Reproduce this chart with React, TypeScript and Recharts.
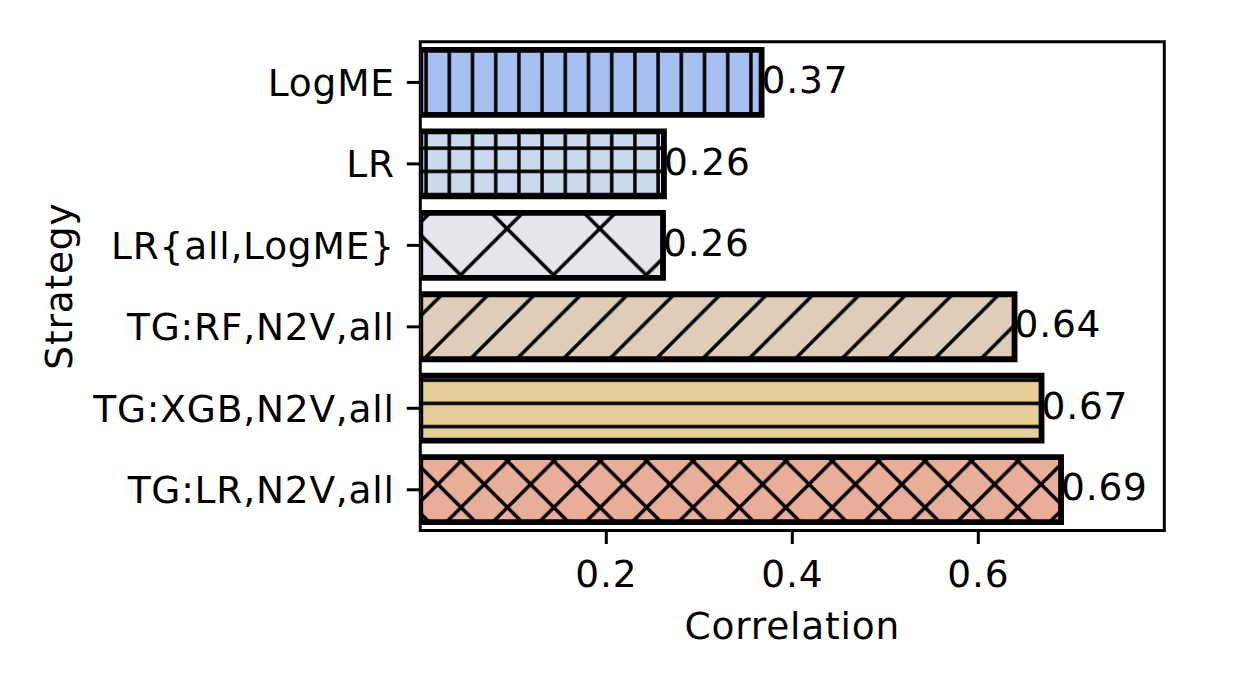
import React from 'react';
import { BarChart, Bar, XAxis, YAxis, Cell, LabelList, ReferenceArea } from 'recharts';

const categories = ['LogME', 'LR', 'LR{all,LogME}', 'TG:RF,N2V,all', 'TG:XGB,N2V,all', 'TG:LR,N2V,all'];
const correlations = [0.367, 0.262, 0.261, 0.639, 0.668, 0.689];
const barColors = ['#a7c0f1', '#ccd8ec', '#e5e5ec', '#dfccb9', '#e6ce98', '#e9ae97'];
const hatchKinds = ['vert', 'grid', 'xsparse', 'diag', 'horiz', 'xdense'];
const xTicks = [0.2, 0.4, 0.6];
const xDomain = [0, 0.8];

const data = categories.map((c, i) => ({ strategy: c, value: correlations[i] }));

const FONT = 'DejaVu Sans';
const FS = 37.5;
const LS = 0.8;
const P = 23.2;
const Q = 2 * P;
const R = 4 * P;
const HW = 3.5;
const EDGE = 5.8;

function diagLines(size: number, slash: boolean, back: boolean) {
  const s = 6;
  const out: any[] = [];
  if (slash) {
    for (let k = 0; k <= 2; k++) {
      out.push(<line key={'s' + k} x1={k * size + s} y1={-s} x2={-s} y2={k * size + s} stroke="#000" strokeWidth={HW} />);
    }
  }
  if (back) {
    for (let k = -1; k <= 1; k++) {
      out.push(<line key={'b' + k} x1={k * size - s} y1={-s} x2={k * size + size + s} y2={size + s} stroke="#000" strokeWidth={HW} />);
    }
  }
  return out;
}

function HatchPattern({ id, color, kind }: { id: string; color: string; kind: string }) {
  if (kind === 'vert') {
    return (
      <pattern id={id} patternUnits="userSpaceOnUse" x={8.5 - P / 2} y={0} width={P} height={P}>
        <rect width={P} height={P} fill={color} />
        <line x1={P / 2} y1={-2} x2={P / 2} y2={P + 2} stroke="#000" strokeWidth={HW} />
      </pattern>
    );
  }
  if (kind === 'grid') {
    return (
      <pattern id={id} patternUnits="userSpaceOnUse" x={8.5 - P / 2} y={9 - P / 2} width={P} height={P}>
        <rect width={P} height={P} fill={color} />
        <line x1={P / 2} y1={-2} x2={P / 2} y2={P + 2} stroke="#000" strokeWidth={HW} />
        <line x1={-2} y1={P / 2} x2={P + 2} y2={P / 2} stroke="#000" strokeWidth={HW} />
      </pattern>
    );
  }
  if (kind === 'horiz') {
    return (
      <pattern id={id} patternUnits="userSpaceOnUse" x={0} y={9 - P / 2} width={P} height={P}>
        <rect width={P} height={P} fill={color} />
        <line x1={-2} y1={P / 2} x2={P + 2} y2={P / 2} stroke="#000" strokeWidth={HW} />
      </pattern>
    );
  }
  if (kind === 'diag') {
    return (
      <pattern id={id} patternUnits="userSpaceOnUse" x={20.25} y={20.25} width={Q} height={Q}>
        <rect width={Q} height={Q} fill={color} />
        {diagLines(Q, true, false)}
      </pattern>
    );
  }
  if (kind === 'xdense') {
    return (
      <pattern id={id} patternUnits="userSpaceOnUse" x={20.25} y={20.25} width={Q} height={Q}>
        <rect width={Q} height={Q} fill={color} />
        {diagLines(Q, true, true)}
      </pattern>
    );
  }
  return (
    <pattern id={id} patternUnits="userSpaceOnUse" x={43} y={43} width={R} height={R}>
      <rect width={R} height={R} fill={color} />
      {diagLines(R, true, true)}
    </pattern>
  );
}

const ValueLabel = (props: any) => {
  const vb = props.viewBox && props.viewBox.width !== undefined ? props.viewBox : props;
  const x = Number(vb.x) + Number(vb.width);
  const y = Number(vb.y) + Number(vb.height) / 2 + 10.7;
  return (
    <text x={x} y={y} fontSize={FS} fontFamily={FONT} letterSpacing={LS} fill="#000" textAnchor="start">
      {Number(props.value).toFixed(2)}
    </text>
  );
};

const XTitle = (props: any) => {
  const vb = props.viewBox;
  return (
    <text x={vb.x + vb.width / 2} y={vb.y + 108.8} textAnchor="middle" fontSize={FS} letterSpacing={LS} fontFamily={FONT} fill="#000">
      Correlation
    </text>
  );
};

const YTitle = (props: any) => {
  const vb = props.viewBox;
  const cx = vb.x + 71.7;
  const cy = vb.y + vb.height / 2;
  return (
    <text x={cx} y={cy} transform={`rotate(-90, ${cx}, ${cy})`} textAnchor="middle" fontSize={FS} letterSpacing={LS} fontFamily={FONT} fill="#000">
      Strategy
    </text>
  );
};

export default function App() {
  return (
    <div style={{ position: 'absolute', left: 0, top: 0, width: 1246, height: 692, background: '#fff', fontFamily: FONT }}>
      <svg width={0} height={0} style={{ position: 'absolute' }}>
        <defs>
          {hatchKinds.map((k, i) => (
            <HatchPattern key={k} id={`hatch-${i}`} color={barColors[i]} kind={k} />
          ))}
        </defs>
      </svg>
      <BarChart
        width={1246}
        height={692}
        data={data}
        layout="vertical"
        margin={{ top: 41.7, right: 81.7, bottom: 0, left: 0 }}
        barCategoryGap="10%"
      >
        <XAxis
          type="number"
          domain={xDomain}
          ticks={xTicks}
          allowDataOverflow
          height={161.5}
          tickSize={13.5}
          tickMargin={16.7}
          axisLine={false}
          tickLine={{ stroke: '#000', strokeWidth: 3 }}
          tick={{ fontSize: FS, fill: '#000', fontFamily: FONT, letterSpacing: LS }}
          tickFormatter={(v: number) => v.toFixed(1)}
          label={XTitle}
        />
        <YAxis
          type="category"
          dataKey="strategy"
          width={420.3}
          tickSize={13.5}
          tickMargin={12}
          interval={0}
          axisLine={false}
          tickLine={{ stroke: '#000', strokeWidth: 3 }}
          tick={{ fontSize: FS, fill: '#000', fontFamily: FONT, letterSpacing: LS }}
          label={YTitle}
        />
        <ReferenceArea x1={0} x2={0.8} fill="none" fillOpacity={0} stroke="#000" strokeWidth={3} ifOverflow="visible" />
        <Bar dataKey="value" isAnimationActive={false} stroke="#000" strokeWidth={EDGE}>
          {data.map((d, i) => (
            <Cell key={d.strategy} fill={`url(#hatch-${i})`} stroke="#000" strokeWidth={EDGE} />
          ))}
          <LabelList dataKey="value" content={ValueLabel} />
        </Bar>
      </BarChart>
    </div>
  );
}
